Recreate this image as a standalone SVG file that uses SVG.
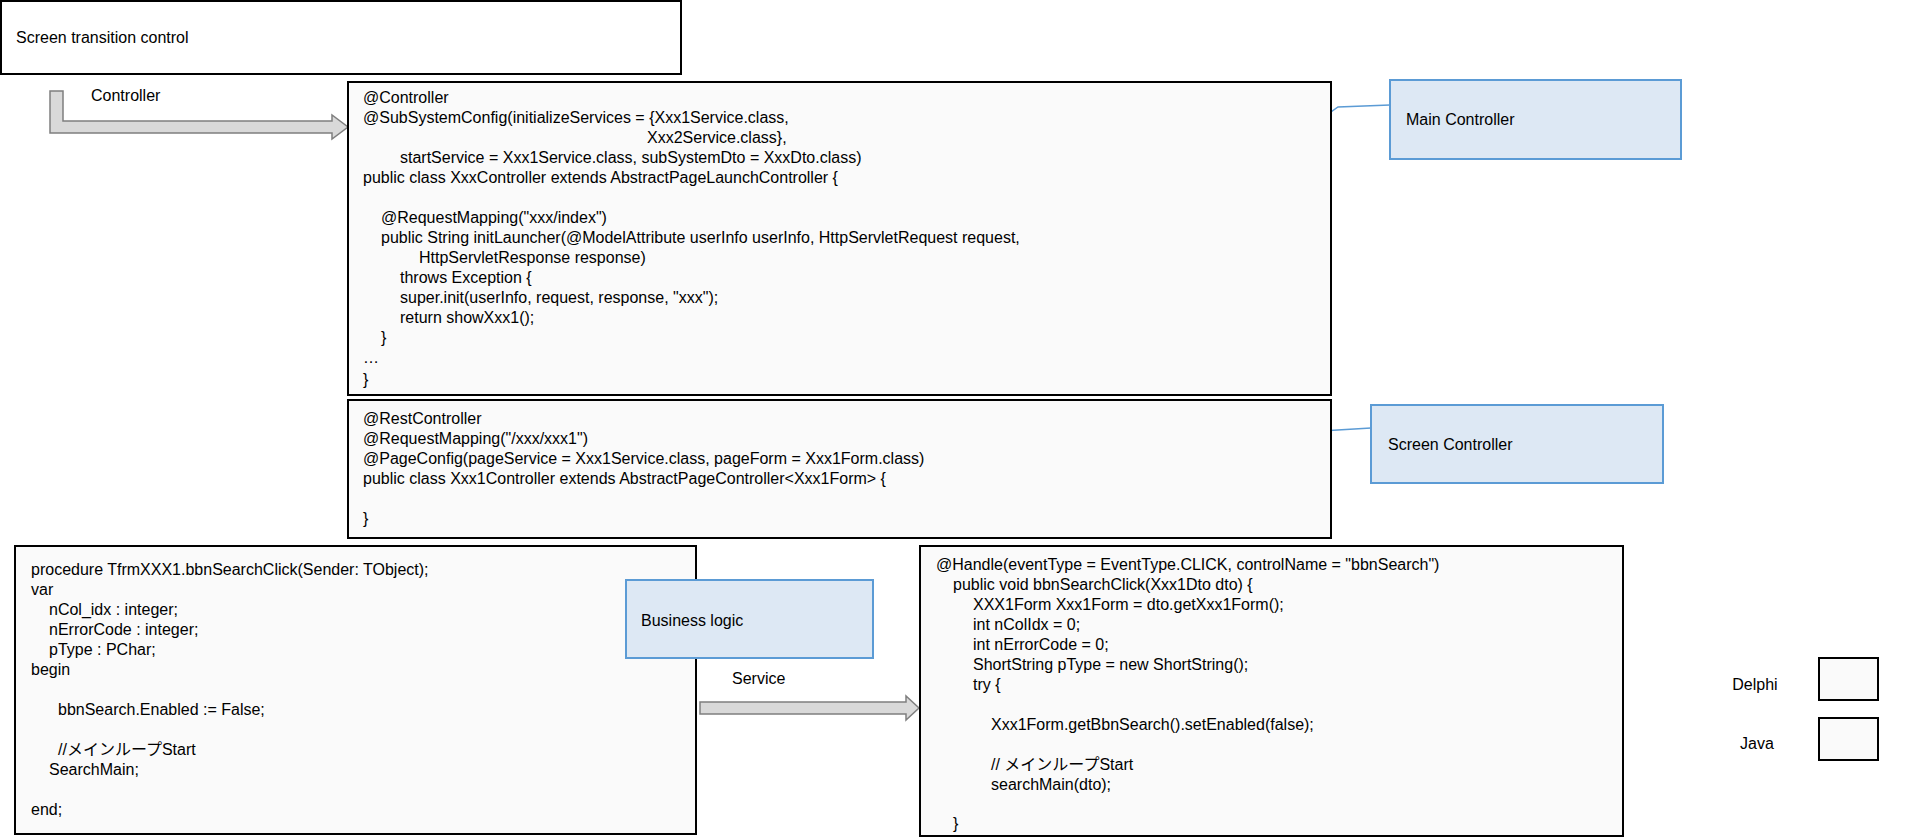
<svg xmlns="http://www.w3.org/2000/svg" width="1906" height="838" viewBox="0 0 1906 838">
<style>
text{font-family:"Liberation Sans",Arial,"Noto Sans CJK JP",sans-serif;font-size:16px;fill:#000}
.code{fill:#fafafa;stroke:#000;stroke-width:2}
.note{fill:#dde8f4;stroke:#5b9bd5;stroke-width:2}
.lead{fill:none;stroke:#5b9bd5;stroke-width:1.5}
.blk{fill:#d9d9d9;stroke:#7f7f7f;stroke-width:1.5}
</style>
<rect width="1906" height="838" fill="#fff"/>
<g id="title"><rect x="1" y="1" width="680" height="73" fill="#fff" stroke="#000" stroke-width="2"/><text x="16" y="43">Screen transition control</text></g>
<g id="connectors">
<path class="blk" d="M50,91 H63 V121 H332 V115 L348,127 L332,139 V133 H50 Z"/>
<text x="91" y="101">Controller</text>
<path class="blk" d="M700,702 H906 V696 L919,708 L906,720 V714 H700 Z"/>
<text x="732" y="684">Service</text>
<polyline class="lead" points="1273,153 1338,107 1390,105"/>
<polyline class="lead" points="1255,477 1321,431 1371,428"/>
<polyline class="lead" points="525,653 581,606 626,604"/>
</g>
<g id="main-controller-code"><rect class="code" x="348" y="82" width="983" height="313"/>
<text x="363" y="103">@Controller</text>
<text x="363" y="123">@SubSystemConfig(initializeServices = {Xxx1Service.class,</text>
<text x="647" y="143">Xxx2Service.class},</text>
<text x="400" y="163">startService = Xxx1Service.class, subSystemDto = XxxDto.class)</text>
<text x="363" y="183">public class XxxController extends AbstractPageLaunchController {</text>
<text x="381" y="223">@RequestMapping("xxx/index")</text>
<text x="381" y="243">public String initLauncher(@ModelAttribute userInfo userInfo, HttpServletRequest request,</text>
<text x="419" y="263">HttpServletResponse response)</text>
<text x="400" y="283">throws Exception {</text>
<text x="400" y="303">super.init(userInfo, request, response, "xxx");</text>
<text x="400" y="323">return showXxx1();</text>
<text x="381" y="343">}</text>
<text x="363" y="363">…</text>
<text x="363" y="385">}</text>
</g>
<g id="main-controller-note"><rect class="note" x="1390" y="80" width="291" height="79"/><text x="1406" y="125">Main Controller</text></g>
<g id="screen-controller-code"><rect class="code" x="348" y="400" width="983" height="138"/>
<text x="363" y="424">@RestController</text>
<text x="363" y="444">@RequestMapping("/xxx/xxx1")</text>
<text x="363" y="464">@PageConfig(pageService = Xxx1Service.class, pageForm = Xxx1Form.class)</text>
<text x="363" y="484">public class Xxx1Controller extends AbstractPageController&lt;Xxx1Form&gt; {</text>
<text x="363" y="524">}</text>
</g>
<g id="screen-controller-note"><rect class="note" x="1371" y="405" width="292" height="78"/><text x="1388" y="450">Screen Controller</text></g>
<g id="delphi-code"><rect class="code" x="15" y="546" width="681" height="288"/>
<text x="31" y="575">procedure TfrmXXX1.bbnSearchClick(Sender: TObject);</text>
<text x="31" y="595">var</text>
<text x="49" y="615">nCol_idx : integer;</text>
<text x="49" y="635">nErrorCode : integer;</text>
<text x="49" y="655">pType : PChar;</text>
<text x="31" y="675">begin</text>
<text x="58" y="715">bbnSearch.Enabled := False;</text>
<text x="58" y="755">//メインループStart</text>
<text x="49" y="775">SearchMain;</text>
<text x="31" y="815">end;</text>
</g>
<g id="business-logic-note"><rect class="note" x="626" y="580" width="247" height="78"/><text x="641" y="626">Business logic</text></g>
<g id="java-code"><rect class="code" x="920" y="546" width="703" height="290"/>
<text x="936" y="570">@Handle(eventType = EventType.CLICK, controlName = "bbnSearch")</text>
<text x="953" y="590">public void bbnSearchClick(Xxx1Dto dto) {</text>
<text x="973" y="610">XXX1Form Xxx1Form = dto.getXxx1Form();</text>
<text x="973" y="630">int nColIdx = 0;</text>
<text x="973" y="650">int nErrorCode = 0;</text>
<text x="973" y="670">ShortString pType = new ShortString();</text>
<text x="973" y="690">try {</text>
<text x="991" y="730">Xxx1Form.getBbnSearch().setEnabled(false);</text>
<text x="991" y="770">// メインループStart</text>
<text x="991" y="790">searchMain(dto);</text>
<text x="953" y="829">}</text>
</g>
<g id="legend-delphi"><text x="1755" y="690" text-anchor="middle">Delphi</text><rect class="code" x="1819" y="658" width="59" height="42"/></g>
<g id="legend-java"><text x="1757" y="749" text-anchor="middle">Java</text><rect class="code" x="1819" y="718" width="59" height="42"/></g>
</svg>
